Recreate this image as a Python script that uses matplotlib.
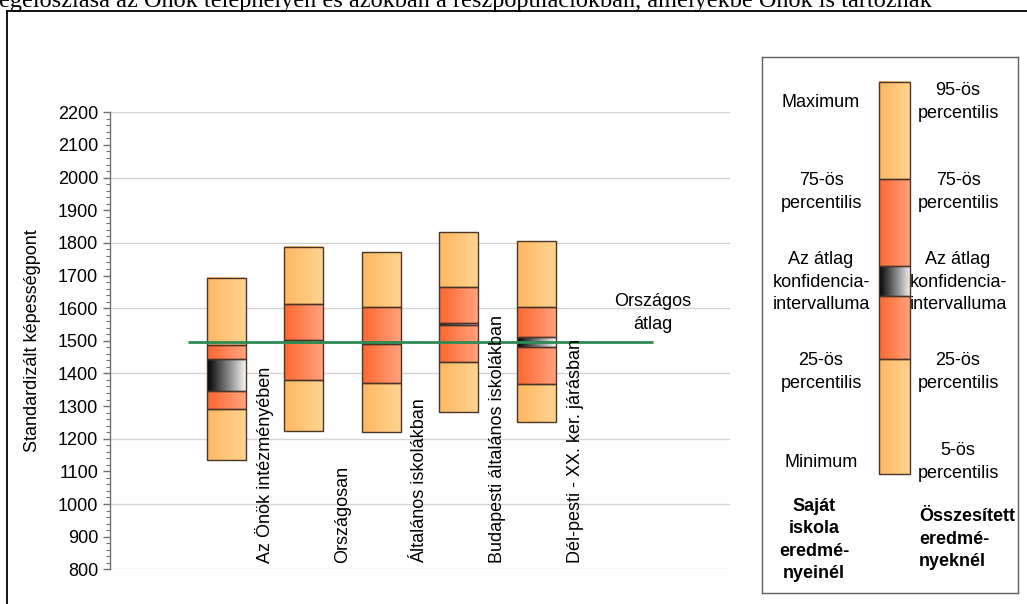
import numpy as np
import matplotlib
matplotlib.use("Agg")
import matplotlib.pyplot as plt
from matplotlib.ticker import MultipleLocator
from matplotlib.transforms import blended_transform_factory
from matplotlib.lines import Line2D

# ---------------- data ----------------
categories = ["Az Önök intézményében", "Országosan", "Általános iskolákban",
              "Budapesti általános iskolákban", "Dél-pesti - XX. ker. járásban"]
p_low = [1135, 1224, 1222, 1283, 1252]      # minimum / 5th percentile
p25 = [1290, 1379, 1371, 1434, 1369]
ci_low = [1346, 1496, 1490, 1549, 1482]
ci_high = [1444, 1502, 1497, 1555, 1513]
p75 = [1487, 1612, 1605, 1666, 1605]
p_high = [1693, 1787, 1772, 1832, 1807]     # maximum / 95th percentile
national_mean = 1497
y_ticks = list(range(800, 2201, 100))
title = "egeloszlása az Önök telephelyén és azokban a részpopulációkban, amelyekbe Önök is tartoznak"
ylabel = "Standardizált képességpont"
mean_label = "Országos\nátlag"
legend_left = ["Maximum", "75-ös\npercentilis", "Az átlag\nkonfidencia-\nintervalluma",
               "25-ös\npercentilis", "Minimum"]
legend_right = ["95-ös\npercentilis", "75-ös\npercentilis", "Az átlag\nkonfidencia-\nintervalluma",
                "25-ös\npercentilis", "5-ös\npercentilis"]
legend_left_title = "Saját\niskola\neredmé-\nnyeinél"
legend_right_title = "Összesített\neredmé-\nnyeknél"

# ---------------- style ----------------
W, H = 1027, 604
FONT = "Liberation Sans"
FS = 13
LS = 1.4
LIGHT = ((1.0, 0.72, 0.38), (1.0, 0.83, 0.57))
DARK = ((1.0, 0.40, 0.18), (1.0, 0.64, 0.50))
CIG = ((0.0, 0.0, 0.0), (0.96, 0.96, 0.96))
EDGE = "#4a3528"
GREEN = "#2f8a55"

plt.rcParams["font.family"] = [FONT, "DejaVu Sans"]


def grad(c0, c1, n=128):
    t = np.linspace(0, 1, n)[None, :, None]
    return np.array(c0)[None, None, :] * (1 - t) + np.array(c1)[None, None, :] * t


fig = plt.figure(figsize=(W / 100, H / 100), dpi=100)


def px_rect(x0, y0, x1, y1):
    return [x0 / W, 1 - y1 / H, (x1 - x0) / W, (y1 - y0) / H]


ax = fig.add_axes(px_rect(110, 112.3, 730, 569.3))
xs = np.arange(1, len(categories) + 1)
bw = 0.5

for i, x in enumerate(xs):
    segs = [(p_low[i], p25[i], LIGHT), (p25[i], ci_low[i], DARK),
            (ci_low[i], ci_high[i], CIG), (ci_high[i], p75[i], DARK),
            (p75[i], p_high[i], LIGHT)]
    for lo, hi, cols in segs:
        ax.imshow(grad(*cols), extent=[x - bw / 2, x + bw / 2, lo, hi],
                  aspect="auto", interpolation="bilinear", zorder=3)
        ax.bar(x, hi - lo, bottom=lo, width=bw, fill=False, edgecolor=EDGE,
               linewidth=1.0, zorder=4)

ax.hlines(national_mean, xs[0] - 0.5, xs[-1] + 1.5, color=GREEN, linewidth=2.0, zorder=5)
ax.text(xs[-1] + 1.5, 1585, mean_label, ha="center", va="center", fontsize=FS,
        linespacing=LS, zorder=6)

tr = blended_transform_factory(ax.transData, ax.transAxes)
for x, lab in zip(xs, categories):
    ax.text(x + 0.5, 0.013, lab, rotation=90, rotation_mode="anchor", ha="left",
            va="center", fontsize=FS, transform=tr, zorder=6)

ax.set_xlim(-0.5, 7.5)
ax.set_ylim(800, 2200)
ax.set_yticks(y_ticks)
ax.yaxis.set_minor_locator(MultipleLocator(20))
ax.set_xticks([])
for v in y_ticks[::2]:
    ax.axhline(v, color="#d4d4d4", linewidth=1.0, zorder=1)
for s in ["top", "right", "bottom"]:
    ax.spines[s].set_visible(False)
ax.spines["left"].set_color("#707070")
ax.spines["left"].set_linewidth(1.0)
ax.tick_params(axis="y", which="major", length=5, width=1, color="#707070",
               labelsize=FS, pad=3.5)
ax.tick_params(axis="y", which="minor", length=3, width=0.8, color="#707070")

fig.text(33 / W, 1 - 340.5 / H, ylabel, rotation=90, ha="center", va="center", fontsize=FS)

# title (clipped at top, as in the original)
fig.text(-1 / W, 1 - 7.5 / H, title, family=["Liberation Serif", "DejaVu Serif"],
         fontsize=17.5, ha="left", va="baseline")

# outer frame
fig.add_artist(Line2D([7 / W, 7 / W], [1 - 11 / H, 0], transform=fig.transFigure,
                      color="black", linewidth=1.3))
fig.add_artist(Line2D([7 / W, 1.0], [1 - 11 / H, 1 - 11 / H], transform=fig.transFigure,
                      color="black", linewidth=1.3))

# legend panel (pixel coordinates inside)
lx0, ly0, lx1, ly1 = 762, 57, 1018, 593
lax = fig.add_axes(px_rect(lx0, ly0, lx1, ly1))
lax.set_xticks([])
lax.set_yticks([])
for s in lax.spines.values():
    s.set_color("#606060")
    s.set_linewidth(1.0)

bx0, bx1 = 879, 910
levels = [474, 359, 296, 265.5, 178.8, 81.5]
lcols = [LIGHT, DARK, CIG, DARK, LIGHT]
for k in range(5):
    lo, hi = levels[k], levels[k + 1]
    lax.imshow(grad(*lcols[k]), extent=[bx0, bx1, lo, hi], aspect="auto",
               interpolation="bilinear", zorder=3)
    lax.add_patch(plt.Rectangle((bx0, hi), bx1 - bx0, lo - hi, fill=False,
                                edgecolor=EDGE, linewidth=1.0, zorder=4))
lax.set_xlim(lx0, lx1)
lax.set_ylim(ly1, ly0)

ycent = [102, 192, 282, 372, 462]
for yc, tl, tr_ in zip(ycent, legend_left, legend_right):
    lax.text(821, yc, tl, ha="center", va="center", fontsize=FS, linespacing=LS)
    lax.text(958, yc, tr_, ha="center", va="center", fontsize=FS, linespacing=LS)
lax.text(814, 540, legend_left_title, ha="center", va="center", fontsize=FS,
         fontweight="bold", linespacing=LS)
lax.text(919, 539, legend_right_title, ha="left", va="center", fontsize=FS,
         fontweight="bold", linespacing=LS)

fig.savefig("out.png", dpi=100)
